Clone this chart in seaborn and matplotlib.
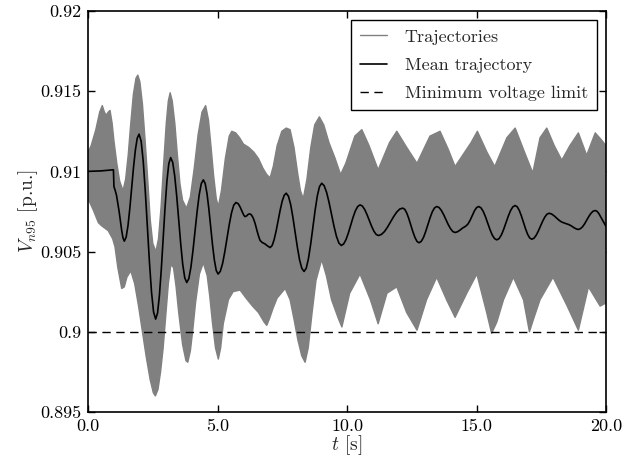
import matplotlib
matplotlib.use("Agg")
import matplotlib.pyplot as plt
import seaborn as sns

# mean trajectory (t in s, V in p.u.)
t_mean = [0.0, 0.5, 0.98, 1.0, 1.05, 1.1, 1.15, 1.2, 1.25, 1.3, 1.35, 1.40,
          1.471, 1.543, 1.614, 1.685, 1.756, 1.828, 1.899, 1.97,
          2.05, 2.13, 2.21, 2.29, 2.37, 2.45, 2.53, 2.61,
          2.683, 2.755, 2.828, 2.90, 2.973, 3.045, 3.118, 3.19,
          3.268, 3.345, 3.423, 3.50, 3.578, 3.655, 3.733, 3.81,
          3.89, 3.97, 4.05, 4.13, 4.21, 4.29, 4.37, 4.45,
          4.521, 4.593, 4.664, 4.735, 4.806, 4.878, 4.949, 5.02,
          5.106, 5.193, 5.279, 5.365, 5.451, 5.538, 5.624, 5.71,
          5.80, 5.88, 5.96, 6.02, 6.06, 6.12, 6.19, 6.25, 6.31, 6.38, 6.45,
          6.52, 6.58, 6.64, 6.72, 6.83, 6.93, 7.03,
          7.108, 7.185, 7.263, 7.34, 7.418, 7.495, 7.573, 7.65,
          7.736, 7.823, 7.909, 7.995, 8.081, 8.168, 8.254, 8.34,
          8.425, 8.51, 8.595, 8.68, 8.765, 8.85, 8.935, 9.02,
          9.115, 9.21, 9.305, 9.40, 9.495, 9.59, 9.685, 9.78,
          9.87, 9.96, 10.05, 10.14, 10.23, 10.32, 10.41, 10.50,
          10.589, 10.678, 10.766, 10.855, 10.944, 11.033, 11.121, 11.21,
          11.328, 11.445, 11.563, 11.68, 11.798, 11.915, 12.033, 12.15,
          12.229, 12.308, 12.386, 12.465, 12.544, 12.623, 12.701, 12.78,
          12.865, 12.95, 13.035, 13.12, 13.205, 13.29, 13.375, 13.46,
          13.549, 13.638, 13.726, 13.815, 13.904, 13.993, 14.081, 14.17,
          14.27, 14.37, 14.47, 14.56, 14.66, 14.75, 14.84, 14.92, 15.00, 15.08,
          15.168, 15.255, 15.343, 15.43, 15.518, 15.605, 15.693, 15.78,
          15.869, 15.958, 16.046, 16.135, 16.224, 16.313, 16.401, 16.49,
          16.57, 16.65, 16.73, 16.81, 16.89, 16.97, 17.05, 17.13,
          17.214, 17.298, 17.381, 17.465, 17.549, 17.633, 17.716, 17.80,
          17.9, 18.0, 18.08, 18.15, 18.22, 18.29, 18.42, 18.55, 18.65, 18.75,
          18.85, 18.93,
          19.011, 19.093, 19.174, 19.255, 19.336, 19.418, 19.499, 19.58,
          19.65, 19.72, 19.79, 19.86, 19.93, 20.0]
v_mean = [0.9100, 0.91003, 0.9101, 0.90905, 0.9088, 0.9085, 0.9080, 0.9075,
          0.9069, 0.9063, 0.90585, 0.90565,
          0.90590, 0.90663, 0.90771, 0.90899, 0.91026, 0.91134, 0.91207, 0.91232,
          0.91188, 0.91063, 0.90876, 0.90656, 0.90435, 0.90248, 0.90123, 0.90079,
          0.90117, 0.90226, 0.90390, 0.90583, 0.90775, 0.90939, 0.91048, 0.91086,
          0.91056, 0.90972, 0.90846, 0.90697, 0.90548, 0.90421, 0.90337, 0.90307,
          0.90331, 0.90401, 0.90505, 0.90627, 0.90749, 0.90853, 0.90923, 0.90947,
          0.90925, 0.90861, 0.90766, 0.90654, 0.90541, 0.90446, 0.90382, 0.90360,
          0.90377, 0.90425, 0.90498, 0.90583, 0.90668, 0.90741, 0.90789, 0.90806,
          0.90798, 0.90775, 0.90745, 0.90725, 0.90718, 0.90722, 0.90733, 0.90735,
          0.90728, 0.90708, 0.90675,
          0.90632, 0.90598, 0.90570, 0.90557, 0.90548, 0.90535, 0.90525,
          0.90538, 0.90575, 0.90630, 0.90695, 0.90759, 0.90814, 0.90851, 0.90864,
          0.90845, 0.90793, 0.90713, 0.90620, 0.90527, 0.90447, 0.90395, 0.90376,
          0.90397, 0.90457, 0.90546, 0.90651, 0.90756, 0.90846, 0.90905, 0.90926,
          0.90911, 0.90869, 0.90806, 0.90732, 0.90658, 0.90595, 0.90553, 0.90538,
          0.90548, 0.90575, 0.90616, 0.90665, 0.90713, 0.90754, 0.90781, 0.90791,
          0.90784, 0.90763, 0.90732, 0.90696, 0.90659, 0.90628, 0.90607, 0.90600,
          0.90607, 0.90625, 0.90653, 0.90686, 0.90718, 0.90746, 0.90765, 0.90771,
          0.90763, 0.90739, 0.90704, 0.90663, 0.90622, 0.90587, 0.90563, 0.90555,
          0.90564, 0.90588, 0.90625, 0.90668, 0.90711, 0.90748, 0.90772, 0.90781,
          0.90775, 0.90757, 0.90731, 0.90700, 0.90669, 0.90643, 0.90625, 0.90619,
          0.90624, 0.90635, 0.90648, 0.90656, 0.90670, 0.90695, 0.90727, 0.90755,
          0.90774, 0.90781,
          0.90773, 0.90751, 0.90717, 0.90677, 0.90637, 0.90603, 0.90581, 0.90573,
          0.90581, 0.90604, 0.90639, 0.90680, 0.90721, 0.90756, 0.90779, 0.90787,
          0.90779, 0.90756, 0.90722, 0.90682, 0.90642, 0.90608, 0.90585, 0.90577,
          0.90583, 0.90601, 0.90627, 0.90658, 0.90689, 0.90715, 0.90733, 0.90739,
          0.90734, 0.90722, 0.90710, 0.90700, 0.90691, 0.90684, 0.90676, 0.90669,
          0.90661, 0.90650, 0.90641, 0.90638,
          0.90643, 0.90655, 0.90674, 0.90697, 0.90720, 0.90739, 0.90752, 0.90756,
          0.90751, 0.90737, 0.90717, 0.90697, 0.90676, 0.90656]

# upper / lower edge of the bundle of trajectories
t_upper = [0.0, 0.12, 0.3, 0.45, 0.55, 0.63, 0.7, 0.78, 0.85, 0.93, 1.0, 1.11,
           1.22, 1.35, 1.45, 1.55, 1.65, 1.75, 1.85, 1.92, 2.0, 2.1, 2.2, 2.3,
           2.4, 2.5, 2.62, 2.72, 2.82, 2.92, 3.02, 3.1, 3.17, 3.25, 3.35, 3.45,
           3.55, 3.65, 3.8, 3.95, 4.1, 4.25, 4.4, 4.54, 4.65, 4.75, 4.85, 4.95,
           5.03, 5.15, 5.3, 5.45, 5.55, 5.7, 5.85, 6.0, 6.2, 6.4, 6.58, 6.75,
           6.9, 7.03, 7.15, 7.3, 7.48, 7.65, 7.8, 7.95, 8.1, 8.2, 8.31, 8.45,
           8.6, 8.75, 8.93, 9.1, 9.3, 9.54, 9.75, 9.95, 10.3, 10.57, 10.85,
           11.2, 11.64, 11.92, 12.3, 12.7, 13.2, 13.59, 13.9, 14.17, 14.79,
           15.03, 15.4, 15.7, 16.17, 16.49, 16.85, 17.17, 17.45, 17.71, 18.0,
           18.29, 18.6, 18.93, 19.25, 19.58, 19.8, 20.0]
v_upper = [0.9112, 0.9116, 0.9126, 0.9137, 0.9141, 0.9137, 0.9135, 0.9137,
           0.9138, 0.9130, 0.9119, 0.9105, 0.9094, 0.9088, 0.9095, 0.9110,
           0.9130, 0.9148, 0.9158, 0.9160, 0.9156, 0.9142, 0.9120, 0.9096,
           0.9070, 0.9055, 0.9050, 0.9058, 0.9078, 0.9105, 0.9130, 0.9144,
           0.9149, 0.9144, 0.9130, 0.9110, 0.9092, 0.9082, 0.9077, 0.9084,
           0.9102, 0.9123, 0.9137, 0.9141, 0.9132, 0.9115, 0.9097, 0.9083,
           0.9078, 0.9088, 0.9108, 0.9122, 0.9125, 0.9124, 0.9121, 0.9117,
           0.9115, 0.9112, 0.9108, 0.9102, 0.9098, 0.9096, 0.9103, 0.9116,
           0.9125, 0.9127, 0.9126, 0.9115, 0.9098, 0.9088, 0.9083, 0.9095,
           0.9115, 0.9129, 0.9134, 0.9129, 0.9118, 0.9108, 0.9098, 0.9105,
           0.9122, 0.9126, 0.9116, 0.9101, 0.9118, 0.9125, 0.9115, 0.9105,
           0.9122, 0.9125, 0.9114, 0.9103, 0.9118, 0.9125, 0.9112, 0.9103,
           0.9121, 0.9127, 0.9112, 0.9099, 0.9121, 0.9127, 0.9116, 0.9107,
           0.9116, 0.9124, 0.9110, 0.9124, 0.9120, 0.9116]
t_lower = [0.0, 0.2, 0.4, 0.53, 0.78, 0.95, 1.04, 1.15, 1.30, 1.4, 1.5, 1.65,
           1.8, 1.95, 2.1, 2.25, 2.4, 2.52, 2.6, 2.7, 2.8, 2.9, 3.0, 3.1, 3.2,
           3.3, 3.4, 3.5, 3.65, 3.78, 3.85, 3.95, 4.05, 4.15, 4.3, 4.45, 4.6,
           4.7, 4.8, 4.92, 5.03, 5.12, 5.22, 5.42, 5.6, 5.87, 6.1, 6.35, 6.58,
           6.8, 6.9, 7.0, 7.15, 7.3, 7.61, 7.8, 7.95, 8.1, 8.25, 8.38, 8.5,
           8.65, 8.8, 9.02, 9.2, 9.4, 9.67, 9.8, 10.1, 10.5, 10.9, 11.2, 11.54,
           11.92, 12.3, 12.7, 13.07, 13.46, 13.84, 14.17, 14.62, 15.01, 15.39,
           15.58, 15.78, 16.04, 16.42, 16.81, 17.04, 17.2, 17.45, 17.95, 18.5,
           18.93, 19.32, 19.77, 20.0]
v_lower = [0.9083, 0.9076, 0.9068, 0.9066, 0.9063, 0.9058, 0.9053, 0.9040,
           0.9027, 0.9028, 0.9034, 0.9038, 0.9030, 0.9016, 0.9000, 0.8984,
           0.8970, 0.8962, 0.8960, 0.8964, 0.8975, 0.8990, 0.9010, 0.9030,
           0.9042, 0.9040, 0.9028, 0.9012, 0.8992, 0.8982, 0.8981, 0.8988,
           0.9002, 0.9018, 0.9036, 0.9043, 0.9035, 0.9022, 0.9006, 0.8990,
           0.8983, 0.8990, 0.9005, 0.9020, 0.9025, 0.9026, 0.9021, 0.9016,
           0.9012, 0.9006, 0.9004, 0.9008, 0.9015, 0.9021, 0.9027, 0.9020,
           0.9008, 0.8995, 0.8985, 0.8981, 0.8990, 0.9012, 0.9032, 0.9045,
           0.9035, 0.9020, 0.9008, 0.9003, 0.9024, 0.9036, 0.9020, 0.9005,
           0.9024, 0.9028, 0.9012, 0.9001, 0.9020, 0.9034, 0.9020, 0.9009,
           0.9024, 0.9036, 0.9012, 0.8999, 0.9006, 0.9020, 0.9034, 0.9020,
           0.9000, 0.9008, 0.9020, 0.9034, 0.9016, 0.9001, 0.9028, 0.9016,
           0.9018]

v_limit = 0.9
x_ticks = [0, 5, 10, 15, 20]
x_ticklabels = ["0.0", "5.0", "10.0", "15.0", "20.0"]
y_ticks = [0.895, 0.9, 0.905, 0.91, 0.915, 0.92]
y_ticklabels = ["0.895", "0.9", "0.905", "0.91", "0.915", "0.92"]

sns.set_theme(style="ticks")
plt.rcParams["font.family"] = ["cmr10"]
plt.rcParams["mathtext.fontset"] = "cm"
plt.rcParams["axes.formatter.use_mathtext"] = True

fig, ax = plt.subplots(figsize=(6.38, 4.57), dpi=100)
fig.subplots_adjust(left=0.138, right=0.950, bottom=0.0985, top=0.976)

# bundle of trajectories
band_x = t_upper + t_lower[::-1]
band_y = v_upper + v_lower[::-1]
ax.fill(band_x, band_y, color="#808080", lw=0)
sns.lineplot(x=t_upper, y=v_upper, color="#808080", lw=1, ax=ax, label="Trajectories")
sns.lineplot(x=t_lower, y=v_lower, color="#808080", lw=1, ax=ax)

sns.lineplot(x=t_mean, y=v_mean, color="black", lw=1.2, ax=ax, sort=False,
             label="Mean trajectory")
ax.axhline(v_limit, color="black", lw=1.0, ls=(0, (6, 4)), label="Minimum voltage limit")

ax.set_xlim(0, 20)
ax.set_ylim(0.895, 0.92)
ax.set_xticks(x_ticks)
ax.set_xticklabels(x_ticklabels)
ax.set_yticks(y_ticks)
ax.set_yticklabels(y_ticklabels)
ax.tick_params(direction="in", top=True, right=True, length=5, width=1,
               labelsize=13, pad=5, colors="black")
for s in ax.spines.values():
    s.set_color("black")
    s.set_linewidth(1.2)

ax.set_xlabel("$t$ [s]", fontsize=14, labelpad=-1)
ax.set_ylabel("$V_{n95}$ [p.u.]", fontsize=14, labelpad=0)

leg = ax.legend(loc="upper right", fontsize=13, frameon=True, fancybox=False,
                edgecolor="black", framealpha=1, borderaxespad=0.5,
                handlelength=1.5, handletextpad=1.0, labelspacing=0.7,
                borderpad=0.5)
leg.get_frame().set_linewidth(1.0)

fig.savefig("out.png", dpi=100)
